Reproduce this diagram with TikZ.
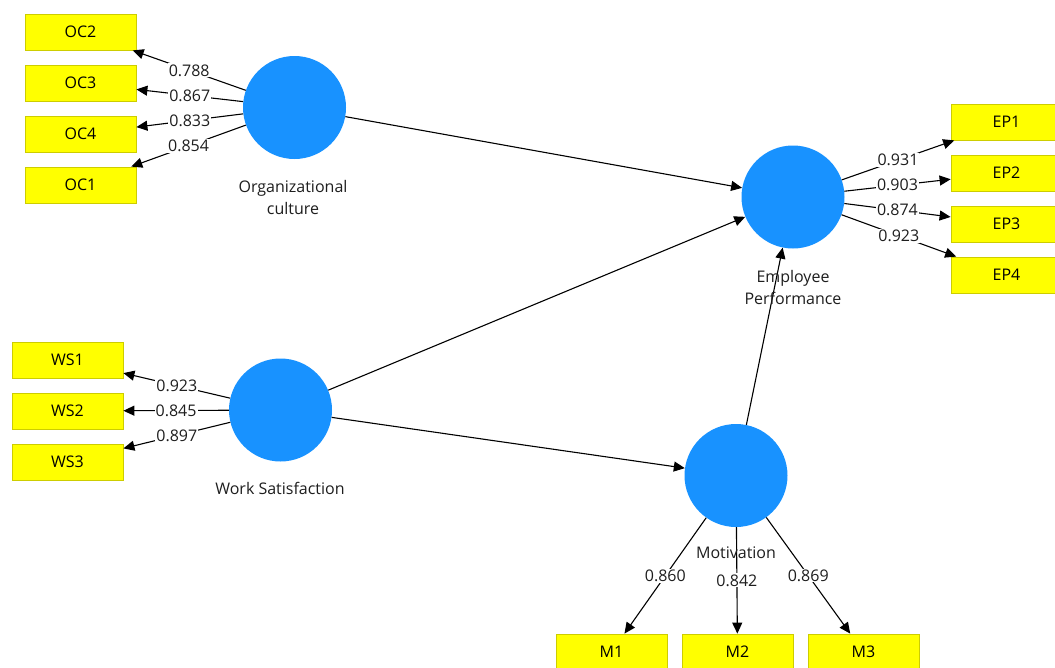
\documentclass[tikz,border=0pt]{standalone}
\usepackage{fontspec}
\setmainfont{Open Sans}
\usetikzlibrary{arrows.meta}
\definecolor{lvblue}{RGB}{24,146,255}
\definecolor{mvfill}{RGB}{255,255,0}
\definecolor{mvdraw}{RGB}{205,205,0}
\definecolor{txt}{RGB}{30,30,30}
\begin{document}
\begin{tikzpicture}[x=1pt,y=-1pt,
  every node/.style={font=\fontsize{16}{22}\selectfont, text=txt},
  lv/.style={circle, fill=lvblue, draw=none, minimum size=103pt, inner sep=0pt},
  mv/.style={rectangle, fill=mvfill, draw=mvdraw, line width=0.8pt, minimum width=111pt, minimum height=36pt, inner sep=0pt, text=black},
  arr/.style={line width=1.1pt, draw=black, -{Triangle[length=11pt,width=10pt]}},
  ld/.style={midway, fill=white, inner sep=1pt, text=txt},
  lvcap/.style={align=center, text=txt}]
\useasboundingbox (0,0) rectangle (1055,667);
\clip (0,0) rectangle (1055,667);
\fill[white] (0,0) rectangle (1055,667);

% latent variables
\node[lv] (oc) at (294.5,107.5) {};
\node[lv] (ep) at (793,197) {};
\node[lv] (ws) at (280.5,410) {};
\node[lv] (m) at (736,475.5) {};

% indicators
\node[mv] (oc2) at (80.5,32) {OC2};
\node[mv] (oc3) at (80.5,83) {OC3};
\node[mv] (oc4) at (80.5,134) {OC4};
\node[mv] (oc1) at (80.5,185) {OC1};

\node[mv] (ep1) at (1006.5,122) {EP1};
\node[mv] (ep2) at (1006.5,173) {EP2};
\node[mv] (ep3) at (1006.5,224) {EP3};
\node[mv] (ep4) at (1006.5,275) {EP4};

\node[mv] (ws1) at (67.5,360) {WS1};
\node[mv] (ws2) at (67.5,411) {WS2};
\node[mv] (ws3) at (67.5,462) {WS3};

\node[mv] (m1) at (611.5,652) {M1};
\node[mv] (m2) at (737.5,652) {M2};
\node[mv] (m3) at (863.5,652) {M3};

% structural paths
\draw[arr] (oc) -- (ep);
\draw[arr] (ws) -- (ep);
\draw[arr] (ws) -- (m);
\draw[arr] (m) -- (ep);

% loadings
\draw[arr] (oc) -- (oc2) node[ld] {0.788};
\draw[arr] (oc) -- (oc3) node[ld] {0.867};
\draw[arr] (oc) -- (oc4) node[ld] {0.833};
\draw[arr] (oc) -- (oc1) node[ld] {0.854};

\draw[arr] (ep) -- (ep1) node[ld] {0.931};
\draw[arr] (ep) -- (ep2) node[ld] {0.903};
\draw[arr] (ep) -- (ep3) node[ld] {0.874};
\draw[arr] (ep) -- (ep4) node[ld] {0.923};

\draw[arr] (ws) -- (ws1) node[ld] {0.923};
\draw[arr] (ws) -- (ws2) node[ld] {0.845};
\draw[arr] (ws) -- (ws3) node[ld] {0.897};

\draw[arr] (m) -- (m1) node[ld] {0.860};
\draw[arr] (m) -- (m2) node[ld] {0.842};
\draw[arr] (m) -- (m3) node[ld] {0.869};

% captions
\node[lvcap] (occap) at (293,197) {Organizational\\culture};
\node[lvcap] (epcap) at (793,287) {Employee\\Performance};
\node[lvcap] (wscap) at (280,488) {Work Satisfaction};
\node[lvcap] (mcap) at (736,553) {Motivation};
\end{tikzpicture}
\end{document}
